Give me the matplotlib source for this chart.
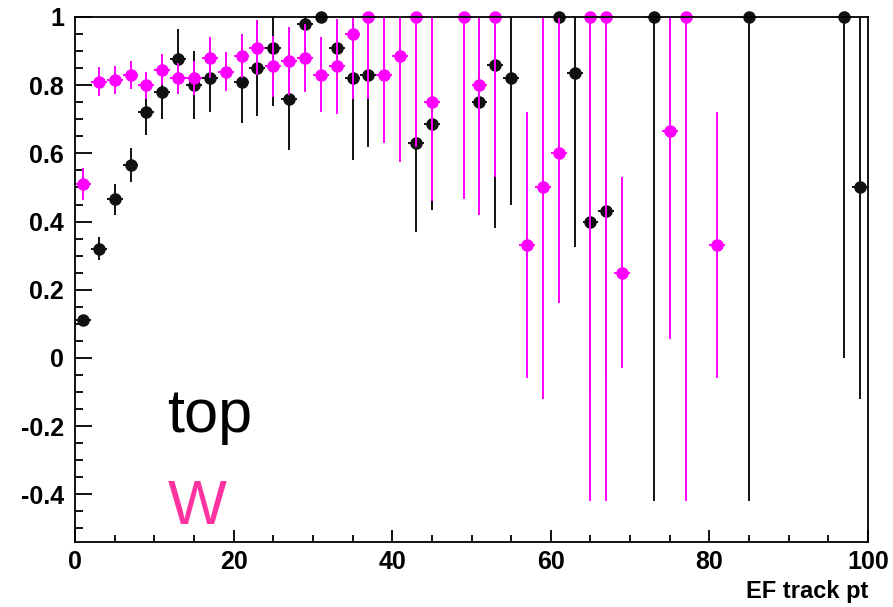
import numpy as np
import matplotlib
matplotlib.use("Agg")
import matplotlib.pyplot as plt
from matplotlib.ticker import MultipleLocator, FuncFormatter

plt.rcParams['font.family'] = ['Liberation Sans', 'DejaVu Sans']

# efficiency vs EF track pt, bins of width 2
top_x = [1, 3, 5, 7, 9, 11, 13, 15, 17, 21, 23, 25, 27, 29, 31, 33, 35, 37,
         43, 45, 51, 53, 55, 61, 63, 65, 67, 73, 85, 97, 99]
top_y = [0.11, 0.32, 0.465, 0.565, 0.72, 0.78, 0.876, 0.80, 0.82, 0.81, 0.85,
         0.91, 0.76, 0.98, 1.0, 0.91, 0.82, 0.83, 0.63, 0.685, 0.75, 0.86,
         0.82, 1.0, 0.835, 0.40, 0.43, 1.0, 1.0, 1.0, 0.50]
top_err = [0.012, 0.034, 0.045, 0.05, 0.065, 0.08, 0.09, 0.10, 0.10, 0.12,
           0.14, 0.17, 0.15, 0.03, 0.0, 0.07, 0.24, 0.21, 0.26, 0.25, 0.3,
           0.48, 0.37, 0.0, 0.51, 0.5, 0.5, 1.42, 1.42, 1.0, 0.62]

w_x = [1, 3, 5, 7, 9, 11, 13, 15, 17, 19, 21, 23, 25, 27, 29, 31, 33, 35, 37,
       39, 41, 43, 45, 49, 51, 53, 57, 59, 61, 65, 67, 69, 75, 77, 81]
w_y = [0.51, 0.81, 0.815, 0.83, 0.80, 0.845, 0.82, 0.82, 0.88, 0.84, 0.885,
       0.91, 0.855, 0.87, 0.88, 0.83, 0.855, 0.95, 1.0, 0.83, 0.885, 1.0,
       0.75, 1.0, 0.80, 1.0, 0.33, 0.50, 0.60, 1.0, 1.0, 0.25, 0.665, 1.0,
       0.33]
w_err = [0.046, 0.043, 0.04, 0.04, 0.04, 0.045, 0.045, 0.05, 0.06, 0.057,
         0.065, 0.08, 0.09, 0.1, 0.1, 0.11, 0.14, 0.19, 0.24, 0.2, 0.31, 0.38,
         0.29, 0.535, 0.38, 0.47, 0.39, 0.62, 0.44, 1.42, 1.42, 0.28, 0.61,
         1.42, 0.39]

bin_half = 1.0

fig = plt.figure(figsize=(8.93, 6.07), dpi=100)
ax = fig.add_axes([0.084, 0.107, 0.888, 0.865])

z = 2
for xs, ys, es, col in [(top_x, top_y, top_err, '#111111'),
                        (w_x, w_y, w_err, '#ff00ff')]:
    ax.errorbar(xs, ys, yerr=es, xerr=bin_half, fmt='none', ecolor=col,
                elinewidth=1.4, capsize=0, zorder=z)
    ax.plot(xs, ys, 'o', color=col, markersize=8, clip_on=False, zorder=z + 1)
    z += 2

ax.set_xlim(0, 100)
ax.set_ylim(-0.54, 1.0)

ax.xaxis.set_major_locator(MultipleLocator(20))
ax.xaxis.set_minor_locator(MultipleLocator(5))
ax.yaxis.set_major_locator(MultipleLocator(0.2))
ax.yaxis.set_minor_locator(MultipleLocator(0.05))
ax.yaxis.set_major_formatter(FuncFormatter(lambda v, p: '%g' % round(v, 2)))

ax.tick_params(which='both', direction='in', top=False, right=False,
               labelsize=18, width=1.3)
ax.tick_params(axis='y', which='major', length=12, pad=8)
ax.tick_params(axis='y', which='minor', length=6)
ax.tick_params(axis='x', which='major', length=9, pad=6)
ax.tick_params(axis='x', which='minor', length=5)
for lab in ax.get_xticklabels() + ax.get_yticklabels():
    lab.set_fontweight('bold')
for sp in ax.spines.values():
    sp.set_linewidth(1.3)
    sp.set_zorder(10)

ax.set_xlabel('EF track pt', fontsize=17, fontweight='bold', loc='right',
              labelpad=4)

fig.text(0.187, 0.288, 'top', fontsize=44, color='black')
fig.text(0.188, 0.137, 'W', fontsize=45, color='#ff33a0')

fig.savefig('out.png', dpi=100)
